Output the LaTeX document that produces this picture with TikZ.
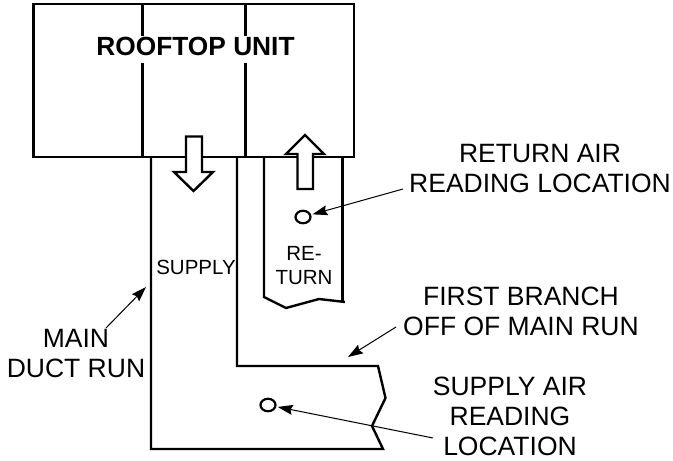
\documentclass[tikz,border=0pt]{standalone}
\usepackage{fontspec}
\setmainfont{Liberation Sans}
\usetikzlibrary{arrows.meta}
\tikzset{
	duct/.style={line width=2.4pt, line join=miter},
	flow/.style={draw, fill=white, line width=2.4pt, line join=miter},
	pointer/.style={-{Stealth[length=15pt,width=10pt,inset=2pt]}, line width=1pt},
	probe/.style={ellipse, draw, line width=2.2pt, minimum width=15pt, minimum height=12.5pt, inner sep=0pt, outer sep=2.5pt},
	lbl/.style={align=center, inner sep=0pt, font=\fontsize{26.5}{30}\selectfont},
	small/.style={align=center, inner sep=0pt, font=\fontsize{20.5}{24}\selectfont}
}
\usetikzlibrary{shapes.geometric}
\begin{document}
\begin{tikzpicture}[x=1pt, y=-1pt]
	\useasboundingbox (0,0) rectangle (673,461);
	% rooftop unit
	\draw[duct] (33.5,4) rectangle (354,157);
	\draw[duct] (142.5,4) -- (142.5,157);
	\draw[duct] (245.5,4) -- (245.5,157);
	\node[anchor=base, inner xsep=0pt, inner ysep=1.5pt, text depth=5.5pt, fill=white, font=\fontsize{26.3}{30}\selectfont\bfseries] (unit) at (195.5,55.5) {ROOFTOP UNIT};
	% supply duct
	\draw[duct] (151,157) -- (151,449) -- (383,449) -- (372,426) -- (385.5,398) -- (378,366) -- (237,366) -- (237,157);
	% return duct
	\draw[duct] (264,157) -- (264,297) -- (286,308) -- (319,299) -- (345,302);
	\draw[duct] (342.5,157) -- (342.5,302);
	% air flow
	\draw[flow] (186,136.5) -- (202,136.5) -- (202,172) -- (213,172) -- (193.5,191) -- (174,172) -- (186,172) -- cycle;
	\draw[flow] (297.5,189) -- (313,189) -- (313,154) -- (324,154) -- (305,135) -- (286,154) -- (297.5,154) -- cycle;
	% text
	\node[small] (supply) at (196,267) {SUPPLY};
	\node[small] (return) at (304,266) {RE-\\TURN};
	\node[lbl] (retlabel) at (540,168.5) {RETURN AIR\\READING LOCATION};
	\node[lbl] (branchlabel) at (521,311) {FIRST BRANCH\\OFF OF MAIN RUN};
	\node[lbl] (suplabel) at (510,416.5) {SUPPLY AIR\\READING\\LOCATION};
	\node[lbl] (mainlabel) at (76,354) {MAIN\\DUCT RUN};
	% reading points
	\node[probe] (retprobe) at (303,217) {};
	\node[probe] (supprobe) at (268,405) {};
	\coordinate (retfrom) at (403,189);
	\coordinate (branchfrom) at (396,327);
	\coordinate (branchto) at (348,357);
	\coordinate (supfrom) at (433,438);
	\coordinate (mainfrom) at (106,328);
	\coordinate (mainto) at (146,287);
	\draw[pointer] (retfrom) -- (retprobe);
	\draw[pointer] (branchfrom) -- (branchto);
	\draw[pointer] (supfrom) -- (supprobe);
	\draw[pointer] (mainfrom) -- (mainto);
\end{tikzpicture}
\end{document}
